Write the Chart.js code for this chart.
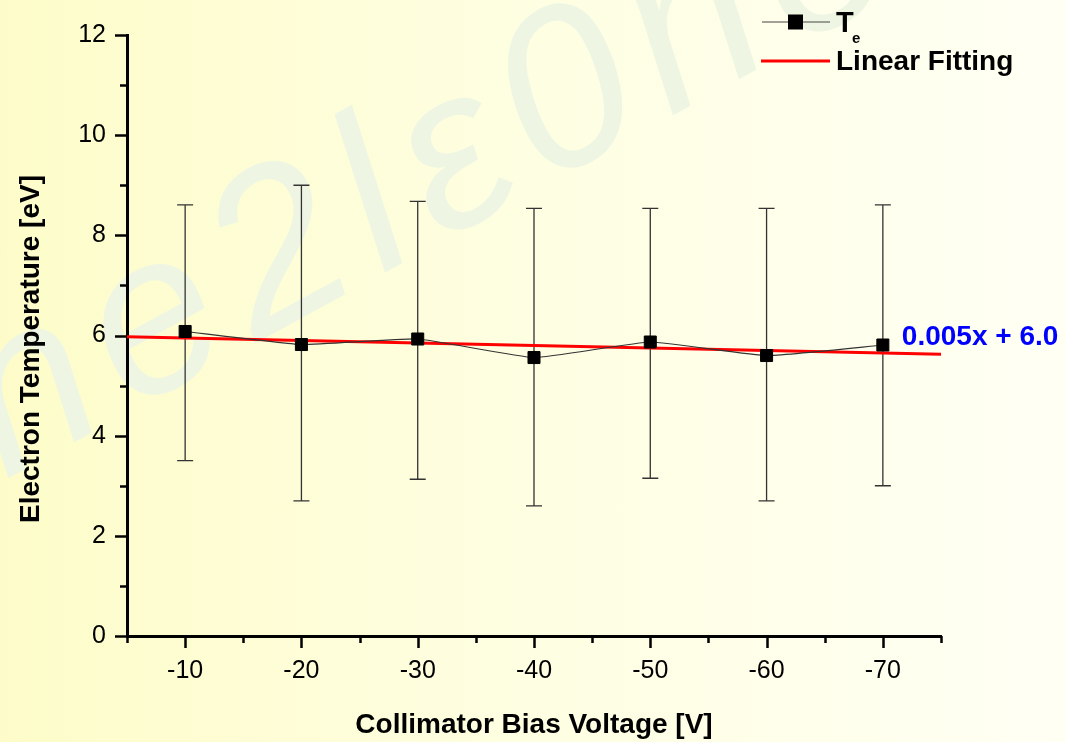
<!DOCTYPE html>
<html>
<head>
<meta charset="utf-8">
<script src="https://cdn.jsdelivr.net/npm/chart.js@4/dist/chart.umd.min.js"></script>
<style>
  html, body { margin: 0; padding: 0; }
  body { width: 1066px; height: 742px; overflow: hidden;
         background: linear-gradient(90deg, #fdfcc9 0%, #fefee0 45%, #fffff4 100%); }
</style>
</head>
<body>
<canvas id="chart" width="1066" height="742"></canvas>
<script>
// bias voltage (V) and electron temperature (eV)
const voltages = [-10, -20, -30, -40, -50, -60, -70];
const temperatures = [6.08, 5.82, 5.93, 5.56, 5.87, 5.60, 5.81];
const errUpper = [8.61, 9.00, 8.68, 8.54, 8.54, 8.54, 8.61];
const errLower = [3.50, 2.70, 3.13, 2.60, 3.15, 2.70, 3.00];

// linear fit y = 0.005x + 6.0 over the axis range
const fitSlope = 0.005;
const fitIntercept = 6.0;
const fitRange = [-5, -75];

const xTicks = [-10, -20, -30, -40, -50, -60, -70];
const yTicks = [0, 2, 4, 6, 8, 10, 12];

const FONT = 'Arial, "Liberation Sans", sans-serif';

const watermark = {
  id: 'watermark',
  beforeDraw(chart) {
    const ctx = chart.ctx;
    ctx.save();
    ctx.translate(5, 480);
    ctx.rotate(-0.5);
    ctx.font = 'italic 225px ' + FONT;
    ctx.letterSpacing = '18px';
    ctx.fillStyle = '#eef6e3';
    ctx.textBaseline = 'alphabetic';
    ctx.fillText('ne2lε0ne', 0, 0);
    ctx.restore();
  }
};

const errorBars = {
  id: 'errorBars',
  beforeDatasetsDraw(chart) {
    const { ctx, scales: { x, y } } = chart;
    ctx.save();
    ctx.strokeStyle = '#333';
    ctx.lineWidth = 1.3;
    voltages.forEach((v, i) => {
      const px = x.getPixelForValue(v);
      const top = y.getPixelForValue(errUpper[i]);
      const bot = y.getPixelForValue(errLower[i]);
      ctx.beginPath();
      ctx.moveTo(px, top); ctx.lineTo(px, bot);
      ctx.moveTo(px - 8, top); ctx.lineTo(px + 8, top);
      ctx.moveTo(px - 8, bot); ctx.lineTo(px + 8, bot);
      ctx.stroke();
    });
    ctx.restore();
  }
};

// major + minor tick marks (Origin style, pointing outward)
const tickMarks = {
  id: 'tickMarks',
  afterDraw(chart) {
    const { ctx, chartArea, scales: { x, y } } = chart;
    ctx.save();
    ctx.strokeStyle = '#000';
    ctx.lineWidth = 2.5;
    ctx.beginPath();
    for (let v = 0; v <= 12; v += 1) {
      const py = Math.round(y.getPixelForValue(v)) + 0.5;
      const len = v % 2 === 0 ? 12 : 7;
      ctx.moveTo(chartArea.left, py); ctx.lineTo(chartArea.left - len, py);
    }
    for (let v = -5; v >= -75; v -= 5) {
      const px = Math.round(x.getPixelForValue(v)) + 0.5;
      const len = v % 10 === 0 ? 12 : 7;
      ctx.moveTo(px, chartArea.bottom); ctx.lineTo(px, chartArea.bottom + len);
    }
    ctx.stroke();
    ctx.restore();
  }
};

const annotations = {
  id: 'annotations',
  afterDraw(chart) {
    const { ctx, scales: { x, y } } = chart;
    ctx.save();
    // y axis title, a bit below the plot centre as in the original
    ctx.save();
    ctx.translate(31, 349);
    ctx.rotate(-Math.PI / 2);
    ctx.font = 'bold 28px ' + FONT;
    ctx.fillStyle = '#000';
    ctx.textAlign = 'center';
    ctx.textBaseline = 'middle';
    ctx.fillText('Electron Temperature [eV]', 0, 0);
    ctx.restore();

    // fit equation next to the line end
    ctx.font = 'bold 28px ' + FONT;
    ctx.fillStyle = '#0000ff';
    ctx.textAlign = 'left';
    ctx.textBaseline = 'middle';
    ctx.fillText('0.005x + 6.0', x.getPixelForValue(-70) + 19, y.getPixelForValue(fitIntercept) + 2);

    // legend
    ctx.strokeStyle = '#444';
    ctx.lineWidth = 1.2;
    ctx.beginPath();
    ctx.moveTo(762, 22); ctx.lineTo(830, 22);
    ctx.stroke();
    ctx.fillStyle = '#000';
    ctx.fillRect(788, 14.5, 15, 15);
    ctx.textBaseline = 'alphabetic';
    ctx.font = 'bold 29px ' + FONT;
    ctx.fillText('T', 836, 32);
    ctx.font = 'bold 15px ' + FONT;
    ctx.fillText('e', 852, 43);

    ctx.strokeStyle = '#ff0000';
    ctx.lineWidth = 3;
    ctx.beginPath();
    ctx.moveTo(761, 61); ctx.lineTo(830, 61);
    ctx.stroke();
    ctx.font = 'bold 28px ' + FONT;
    ctx.fillStyle = '#000';
    ctx.fillText('Linear Fitting', 836, 70);
    ctx.restore();
  }
};

new Chart(document.getElementById('chart'), {
  type: 'line',
  data: {
    datasets: [
      {
        label: 'Te',
        data: voltages.map((v, i) => ({ x: v, y: temperatures[i] })),
        borderColor: '#333',
        borderWidth: 1.2,
        tension: 0.12,
        pointStyle: 'rect',
        pointRadius: 8.5,
        pointBorderWidth: 1,
        pointBackgroundColor: '#000',
        pointBorderColor: '#000',
        clip: false,
        order: 1
      },
      {
        label: 'Linear Fitting',
        data: fitRange.map(v => ({ x: v, y: fitSlope * v + fitIntercept })),
        borderColor: '#ff0000',
        borderWidth: 3,
        pointRadius: 0,
        tension: 0,
        clip: false,
        order: 2
      }
    ]
  },
  options: {
    responsive: false,
    animation: false,
    devicePixelRatio: 1,
    layout: { padding: { left: 0, top: 35, right: 125, bottom: 0 } },
    plugins: { legend: { display: false }, tooltip: { enabled: false } },
    scales: {
      x: {
        type: 'linear',
        reverse: true,
        min: -75,
        max: -5,
        afterBuildTicks: s => { s.ticks = xTicks.map(v => ({ value: v })); },
        afterFit: s => { s.height = 106; },
        grid: { display: false },
        border: { display: true, color: '#000', width: 3 },
        ticks: { color: '#000', padding: 12, maxRotation: 0, font: { family: FONT, size: 25 } },
        title: {
          display: true,
          text: 'Collimator Bias Voltage [V]',
          color: '#000',
          font: { family: FONT, size: 28, weight: 'bold' },
          padding: { top: 0, bottom: 0 }
        }
      },
      y: {
        type: 'linear',
        min: 0,
        max: 12,
        afterBuildTicks: s => { s.ticks = yTicks.map(v => ({ value: v })); },
        afterFit: s => { s.width = 127; },
        grid: { display: false },
        border: { display: true, color: '#000', width: 3 },
        ticks: { color: '#000', padding: 13, font: { family: FONT, size: 25 } },
        title: { display: false }
      }
    }
  },
  plugins: [watermark, errorBars, tickMarks, annotations]
});
</script>
</body>
</html>
